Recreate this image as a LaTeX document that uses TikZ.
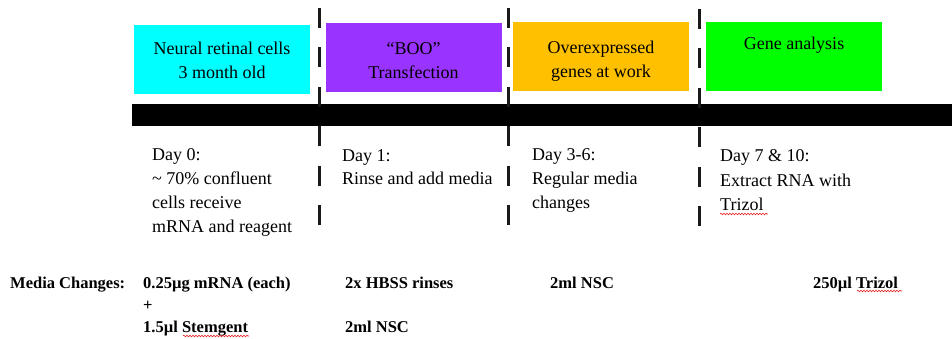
\documentclass[tikz,border=0pt]{standalone}
\usepackage{fontspec}
\setmainfont{Liberation Serif}
\usetikzlibrary{decorations.pathmorphing}
\definecolor{cyanbox}{RGB}{0,255,255}
\definecolor{purplebox}{RGB}{153,51,255}
\definecolor{orangebox}{RGB}{255,192,0}
\definecolor{greenbox}{RGB}{0,255,0}
\definecolor{squiggle}{RGB}{230,30,30}
\begin{document}
\begin{tikzpicture}[x=1pt,y=-1pt,
  phasebox/.style={draw=none, minimum width=176pt, minimum height=69pt, inner sep=0pt},
  boxtext/.style={align=center, inner sep=0pt, anchor=base, font=\fontsize{18}{24}\selectfont},
  daytext/.style={align=left, inner sep=0pt, anchor=base west, font=\fontsize{18}{24}\selectfont},
  mediatext/.style={inner sep=0pt, anchor=base west, font=\fontsize{16.5}{22}\selectfont\bfseries},
  dashline/.style={line width=3pt, dash pattern=on 20pt off 19.4pt, color=black!90},
  wavy/.style={draw=squiggle, line width=0.6pt, decorate, decoration={snake, amplitude=0.8pt, segment length=3pt}}]
\useasboundingbox (0,0) rectangle (952,339);
% phase boxes
\node[phasebox, fill=cyanbox] (b1) at (222,59.5) {};
\node[phasebox, fill=purplebox] (b2) at (413.5,58) {};
\node[phasebox, fill=orangebox] (b3) at (601,57) {};
\node[phasebox, fill=greenbox] (b4) at (794,56.5) {};
\node[boxtext] (t1) at (222,79) {Neural retinal cells\\3 month old};
\node[boxtext] (t2) at (413.5,79) {“BOO”\\Transfection};
\node[boxtext] (t3) at (601,78) {Overexpressed\\genes at work};
\node[boxtext] (t4) at (794,50) {Gene analysis};
% timeline bar
\fill[black] (132,104) rectangle (952,126);
% dashed separators
\coordinate (d1a) at (319,8);  \coordinate (d1b) at (319,226);
\coordinate (d2a) at (508,8);  \coordinate (d2b) at (508,226);
\coordinate (d3a) at (699,9);  \coordinate (d3b) at (699,227);
\draw[dashline] (d1a) -- (d1b);
\draw[dashline] (d2a) -- (d2b);
\draw[dashline] (d3a) -- (d3b);
% day descriptions (anchored at baseline of last line)
\node[daytext] (day0) at (152,232) {Day 0:\\\textasciitilde{} 70\% confluent\\cells receive\\mRNA and reagent};
\node[daytext] (day1) at (342,185) {Day 1:\\Rinse and add media};
\node[daytext] (day3) at (532,208) {Day 3-6:\\Regular media\\changes};
\node[daytext] (day7) at (720,210) {Day 7 \& 10:\\Extract RNA with\\Trizol};
% media changes
\node[mediatext] (mc) at (10,288) {Media Changes:};
\node[mediatext] (m1) at (143,288) {0.25µg mRNA (each)};
\node[mediatext] (m1p) at (143,310) {+};
\node[mediatext] (m1b) at (143,332) {1.5µl Stemgent};
\node[mediatext] (m2) at (345,288) {2x HBSS rinses};
\node[mediatext] (m2b) at (345,332) {2ml NSC};
\node[mediatext] (m3) at (550,288) {2ml NSC};
\node[mediatext] (m4) at (813,288) {250µl Trizol};
% spell-check squiggles
\draw[wavy] (720,214) -- (768,214);
\draw[wavy] (183,336) -- (249,336);
\draw[wavy] (857,291) -- (902,291);
\end{tikzpicture}
\end{document}
